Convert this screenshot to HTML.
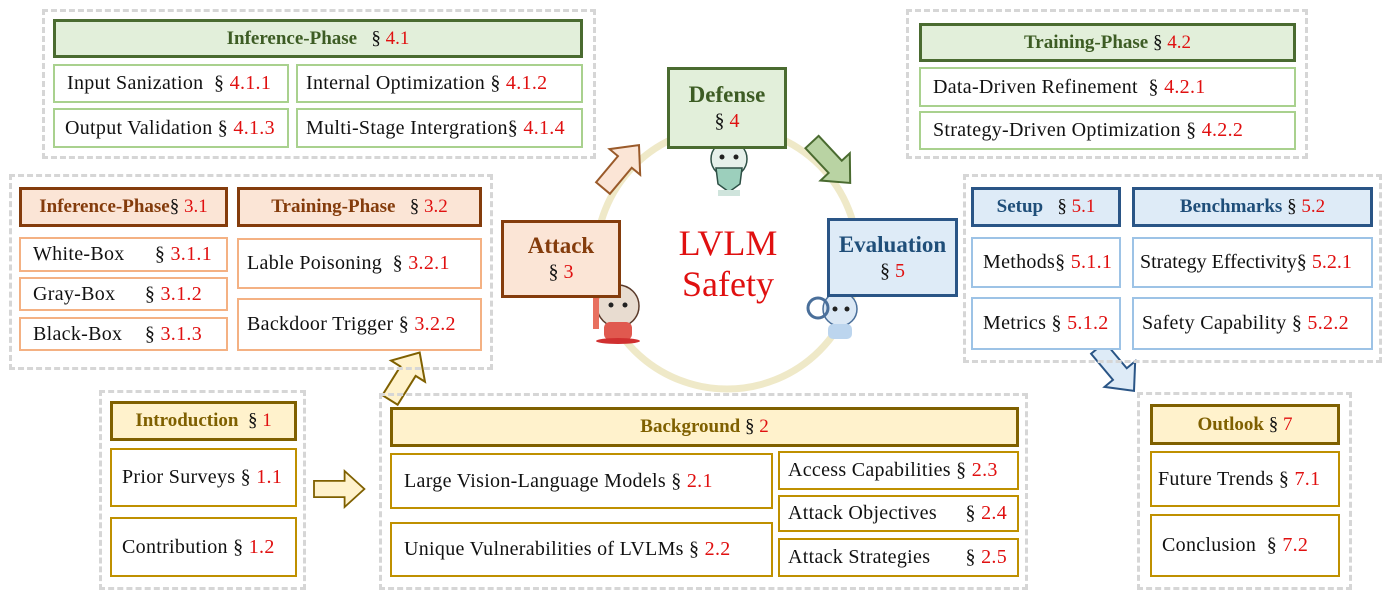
<!DOCTYPE html>
<html><head><meta charset="utf-8"><style>
body{margin:0;width:1390px;height:602px;background:#fff;position:relative;overflow:hidden;font-family:"Liberation Serif",serif;}
.d{position:absolute;border:3px dashed #d6d6d6;box-sizing:border-box;}
.b{position:absolute;box-sizing:border-box;display:flex;align-items:center;font-size:20px;letter-spacing:0.3px;white-space:nowrap;color:#111;background:#fff;}
.h{justify-content:center;font-weight:bold;border-width:3px;border-style:solid;font-size:19px;letter-spacing:0;}
.c{border-width:2px;border-style:solid;padding-left:12px;}
.r{color:#e01010;font-weight:normal;}
.g.h{background:#e2efda;border-color:#4a6b30;color:#3d5c24}
.g.c{border-color:#a9d18e}
.o.h{background:#fbe5d6;border-color:#843c0c;color:#843c0c}
.o.c{border-color:#f4b183}
.u.h{background:#deebf7;border-color:#2a5586;color:#1f4e79}
.u.c{border-color:#9dc3e6}
.y.h{background:#fff2cc;border-color:#7f6000;color:#7f6000}
.y.c{border-color:#bf9000}
.m{flex-direction:column;font-size:23px;line-height:26px}
</style></head><body>
<svg style="position:absolute;left:0;top:0" width="1390" height="602">
<defs><polygon id="ar" points="0,-9 34,-9 34,-20 56,0 34,20 34,9 0,9"/></defs>
<circle cx="727" cy="258" r="131" fill="none" stroke="#efe9c8" stroke-width="7"/>
<use href="#ar" transform="translate(603,188) rotate(-50)" fill="#fbe5d6" stroke="#9a5a2a" stroke-width="2"/>
<use href="#ar" transform="translate(812,142) rotate(47)" fill="#b9d3a3" stroke="#4a6b30" stroke-width="2"/>
<use href="#ar" transform="translate(390,400) rotate(-58)" fill="#fff2cc" stroke="#7f6000" stroke-width="2"/>
<use href="#ar" transform="translate(314,489) rotate(0) scale(0.9)" fill="#fff2cc" stroke="#7f6000" stroke-width="2"/>
<use href="#ar" transform="translate(1098,348) rotate(50)" fill="#deebf7" stroke="#2a5586" stroke-width="2"/>
<g><circle cx="618" cy="306" r="21" fill="#e8dcd0" stroke="#5a3a2a" stroke-width="1.5"/><rect x="604" y="322" width="28" height="18" rx="6" fill="#e0594f"/><rect x="593" y="289" width="6" height="40" fill="#e8705f"/><circle cx="611" cy="305" r="2.5" fill="#222"/><circle cx="625" cy="305" r="2.5" fill="#222"/><ellipse cx="618" cy="341" rx="22" ry="3" fill="#d03030"/></g>
<g><circle cx="729" cy="159" r="18" fill="#e6f0ea" stroke="#2d4f45" stroke-width="1.5"/><path d="M716 168 L742 168 L740 184 L729 192 L718 184Z" fill="#9ccfbc" stroke="#2d4f45" stroke-width="1.5"/><circle cx="722" cy="157" r="2.5" fill="#222"/><circle cx="736" cy="157" r="2.5" fill="#222"/><rect x="718" y="190" width="22" height="6" fill="#cfe4dc"/></g>
<g><circle cx="840" cy="309" r="17" fill="#dbe8f5" stroke="#4a6f9a" stroke-width="1.5"/><circle cx="818" cy="308" r="10" fill="none" stroke="#4a6f9a" stroke-width="3"/><rect x="828" y="324" width="24" height="15" rx="5" fill="#bcd5ee"/><circle cx="835" cy="309" r="2.5" fill="#222"/><circle cx="847" cy="309" r="2.5" fill="#222"/></g>
<text x="728" y="255" text-anchor="middle" font-family="Liberation Serif" font-size="36" fill="#e01010">LVLM</text>
<text x="728" y="296" text-anchor="middle" font-family="Liberation Serif" font-size="36" fill="#e01010">Safety</text>
</svg>

<div class="d" style="left:42px;top:9px;width:554px;height:150px"></div>
<div class="b h g" style="left:53px;top:19px;width:530px;height:39px">Inference-Phase&nbsp;&nbsp;&nbsp;<span style="font-weight:normal;color:#111">§</span>&nbsp;<span class="r">4.1</span></div>
<div class="b c g" style="left:53px;top:64px;width:236px;height:39px">Input Sanization&nbsp;&nbsp;§<span class="r">&nbsp;4.1.1</span></div>
<div class="b c g" style="left:296px;top:64px;width:287px;height:39px;padding-left:8px">Internal Optimization §<span class="r">&nbsp;4.1.2</span></div>
<div class="b c g" style="left:53px;top:108px;width:236px;height:40px;padding-left:10px">Output Validation §<span class="r">&nbsp;4.1.3</span></div>
<div class="b c g" style="left:296px;top:108px;width:287px;height:40px;padding-left:8px">Multi-Stage Intergration§<span class="r">&nbsp;4.1.4</span></div>

<div class="d" style="left:906px;top:9px;width:402px;height:150px"></div>
<div class="b h g" style="left:919px;top:23px;width:377px;height:39px">Training-Phase <span style="font-weight:normal;color:#111">&nbsp;§</span>&nbsp;<span class="r">4.2</span></div>
<div class="b c g" style="left:919px;top:67px;width:377px;height:40px">Data-Driven Refinement&nbsp;&nbsp;§<span class="r">&nbsp;4.2.1</span></div>
<div class="b c g" style="left:919px;top:111px;width:377px;height:39px">Strategy-Driven Optimization §<span class="r">&nbsp;4.2.2</span></div>

<div class="d" style="left:9px;top:174px;width:484px;height:196px"></div>
<div class="b h o" style="left:19px;top:187px;width:209px;height:40px">Inference-Phase<span style="font-weight:normal;color:#111">§</span>&nbsp;<span class="r">3.1</span></div>
<div class="b h o" style="left:237px;top:187px;width:245px;height:40px">Training-Phase&nbsp;&nbsp;&nbsp;<span style="font-weight:normal;color:#111">§</span>&nbsp;<span class="r">3.2</span></div>
<div class="b c o" style="left:19px;top:237px;width:209px;height:35px">White-Box<span style="margin-left:auto;margin-right:14px">§ <span class="r">3.1.1</span></span></div>
<div class="b c o" style="left:19px;top:277px;width:209px;height:34px">Gray-Box<span style="margin-left:auto;margin-right:24px">§ <span class="r">3.1.2</span></span></div>
<div class="b c o" style="left:19px;top:317px;width:209px;height:34px">Black-Box<span style="margin-left:auto;margin-right:24px">§ <span class="r">3.1.3</span></span></div>
<div class="b c o" style="left:237px;top:238px;width:245px;height:51px;padding-left:8px">Lable Poisoning&nbsp;&nbsp;§<span class="r">&nbsp;3.2.1</span></div>
<div class="b c o" style="left:237px;top:298px;width:245px;height:53px;padding-left:8px">Backdoor Trigger §<span class="r">&nbsp;3.2.2</span></div>

<div class="b h o m" style="left:501px;top:220px;width:120px;height:78px"><span>Attack</span><span style="font-weight:normal;color:#111;font-size:20px">§ <span class="r">3</span></span></div>
<div class="b h g m" style="left:667px;top:67px;width:120px;height:82px"><span>Defense</span><span style="font-weight:normal;color:#111;font-size:20px">§ <span class="r">4</span></span></div>
<div class="b h u m" style="left:827px;top:218px;width:131px;height:79px"><span>Evaluation</span><span style="font-weight:normal;color:#111;font-size:20px">§ <span class="r">5</span></span></div>

<div class="d" style="left:963px;top:174px;width:419px;height:189px"></div>
<div class="b h u" style="left:971px;top:187px;width:150px;height:40px">Setup&nbsp;&nbsp;&nbsp;<span style="font-weight:normal;color:#111">§</span>&nbsp;<span class="r">5.1</span></div>
<div class="b h u" style="left:1132px;top:187px;width:241px;height:40px">Benchmarks<span style="font-weight:normal;color:#111">&nbsp;§</span>&nbsp;<span class="r">5.2</span></div>
<div class="b c u" style="left:971px;top:237px;width:150px;height:51px;padding-left:10px">Methods§<span class="r">&nbsp;5.1.1</span></div>
<div class="b c u" style="left:971px;top:297px;width:150px;height:53px;padding-left:10px">Metrics §<span class="r">&nbsp;5.1.2</span></div>
<div class="b c u" style="left:1132px;top:237px;width:241px;height:51px;padding-left:6px;letter-spacing:0">Strategy Effectivity§<span class="r">&nbsp;5.2.1</span></div>
<div class="b c u" style="left:1132px;top:297px;width:241px;height:53px;padding-left:8px">Safety Capability §<span class="r">&nbsp;5.2.2</span></div>

<div class="d" style="left:99px;top:390px;width:207px;height:200px"></div>
<div class="b h y" style="left:110px;top:401px;width:187px;height:40px">Introduction&nbsp;&nbsp;<span style="font-weight:normal;color:#111">§</span>&nbsp;<span class="r">1</span></div>
<div class="b c y" style="left:110px;top:448px;width:187px;height:59px;padding-left:10px">Prior Surveys&nbsp;§<span class="r">&nbsp;1.1</span></div>
<div class="b c y" style="left:110px;top:517px;width:187px;height:60px;padding-left:10px">Contribution §<span class="r">&nbsp;1.2</span></div>

<div class="d" style="left:379px;top:393px;width:649px;height:197px"></div>
<div class="b h y" style="left:390px;top:407px;width:629px;height:40px">Background <span style="font-weight:normal;color:#111">&nbsp;§</span>&nbsp;<span class="r">2</span></div>
<div class="b c y" style="left:390px;top:453px;width:383px;height:56px">Large Vision-Language Models §<span class="r">&nbsp;2.1</span></div>
<div class="b c y" style="left:390px;top:522px;width:383px;height:55px">Unique Vulnerabilities of LVLMs §<span class="r">&nbsp;2.2</span></div>
<div class="b c y" style="left:778px;top:451px;width:241px;height:39px;padding-left:8px">Access Capabilities §<span class="r">&nbsp;2.3</span></div>
<div class="b c y" style="left:778px;top:495px;width:241px;height:37px;padding-left:8px">Attack Objectives<span style="margin-left:auto;margin-right:10px">§ <span class="r">2.4</span></span></div>
<div class="b c y" style="left:778px;top:538px;width:241px;height:39px;padding-left:8px">Attack Strategies<span style="margin-left:auto;margin-right:10px">§ <span class="r">2.5</span></span></div>

<div class="d" style="left:1137px;top:392px;width:215px;height:198px"></div>
<div class="b h y" style="left:1150px;top:404px;width:190px;height:41px">Outlook <span style="font-weight:normal;color:#111">&nbsp;§</span>&nbsp;<span class="r">7</span></div>
<div class="b c y" style="left:1150px;top:451px;width:190px;height:56px;padding-left:6px">Future Trends §<span class="r">&nbsp;7.1</span></div>
<div class="b c y" style="left:1150px;top:514px;width:190px;height:63px;padding-left:10px">Conclusion&nbsp;&nbsp;§<span class="r">&nbsp;7.2</span></div>
</body></html>
